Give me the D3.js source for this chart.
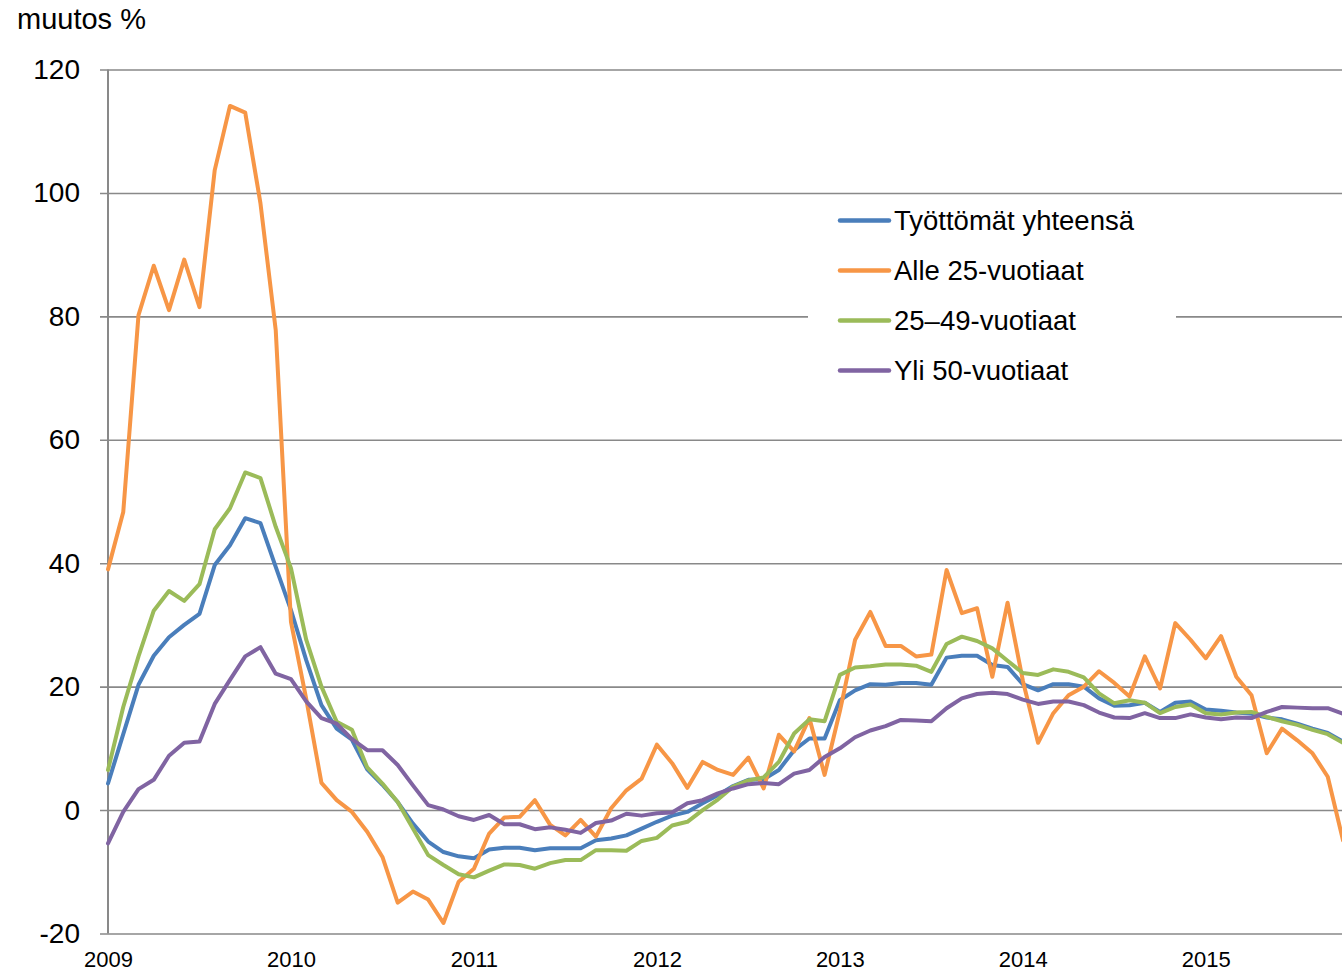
<!DOCTYPE html>
<html>
<head>
<meta charset="utf-8">
<script src="https://cdn.jsdelivr.net/npm/d3@7"></script>
<style>
  body { margin: 0; background: #fff; }
  svg { display: block; font-family: "Liberation Sans", Arial, sans-serif; }
</style>
</head>
<body>
<div id="chart"></div>
<script>
// Monthly data, Jan 2009 - Oct 2015 (change %, year over year)
var years = ['2009', '2010', '2011', '2012', '2013', '2014', '2015'];
var yTicks = [-20, 0, 20, 40, 60, 80, 100, 120];
var seriesNames = ['Työttömät yhteensä', 'Alle 25-vuotiaat', '25–49-vuotiaat', 'Yli 50-vuotiaat'];
var seriesColors = ['#4A7EBB', '#F79646', '#9BBB59', '#8064A2'];

var total = [4.3, 12.3, 20.3, 25.0, 28.0, 30.0, 31.8, 39.7, 42.9, 47.3, 46.5, 39.4,
  32.4, 24.3, 17.0, 13.2, 11.4, 6.6, 4.1, 1.3, -2.2, -5.1, -6.8, -7.5,
  -7.8, -6.4, -6.1, -6.1, -6.5, -6.2, -6.2, -6.2, -4.9, -4.6, -4.1, -3.0,
  -1.9, -0.9, -0.3, 1.1, 2.4, 3.9, 4.9, 5.0, 6.5, 9.7, 11.6, 11.6,
  17.8, 19.4, 20.4, 20.3, 20.6, 20.6, 20.3, 24.7, 25.0, 25.0, 23.5, 23.2,
  20.4, 19.4, 20.4, 20.4, 20.0, 18.1, 16.9, 17.0, 17.4, 15.9, 17.4, 17.6,
  16.3, 16.1, 15.8, 15.6, 15.0, 14.7, 14.0, 13.2, 12.5, 11.1];

var under25 = [39.0, 48.3, 80.2, 88.2, 81.0, 89.2, 81.5, 103.7, 114.1, 113.0, 98.3, 77.8,
  30.5, 18.0, 4.4, 1.6, -0.3, -3.5, -7.6, -15.0, -13.2, -14.5, -18.3, -11.6,
  -9.5, -3.8, -1.2, -1.1, 1.6, -2.4, -4.1, -1.6, -4.3, 0.3, 3.2, 5.1,
  10.6, 7.6, 3.6, 7.8, 6.5, 5.7, 8.5, 3.5, 12.2, 9.5, 14.9, 5.7,
  16.0, 27.6, 32.1, 26.6, 26.6, 24.9, 25.2, 38.9, 31.9, 32.7, 21.6, 33.6,
  21.0, 10.9, 15.7, 18.6, 20.0, 22.5, 20.6, 18.4, 24.9, 19.7, 30.3, 27.6,
  24.6, 28.2, 21.6, 18.6, 9.2, 13.2, 11.3, 9.2, 5.4, -4.9];

var age25to49 = [6.5, 16.7, 24.9, 32.3, 35.5, 33.9, 36.6, 45.5, 48.9, 54.7, 53.8, 45.9,
  39.2, 27.6, 20.0, 14.3, 13.0, 6.9, 4.3, 1.3, -3.0, -7.3, -8.9, -10.4,
  -10.9, -9.8, -8.8, -8.9, -9.5, -8.6, -8.1, -8.1, -6.5, -6.5, -6.6, -5.0,
  -4.5, -2.5, -1.9, 0.0, 1.7, 3.8, 4.8, 5.3, 7.8, 12.4, 14.7, 14.4,
  21.9, 23.1, 23.3, 23.6, 23.6, 23.4, 22.4, 26.9, 28.1, 27.4, 26.2, 24.2,
  22.2, 21.9, 22.8, 22.4, 21.5, 18.9, 17.3, 17.8, 17.4, 15.7, 16.7, 17.1,
  15.7, 15.5, 15.8, 15.9, 15.1, 14.4, 13.8, 13.0, 12.3, 10.9];

var over50 = [-5.4, -0.3, 3.4, 4.9, 8.8, 10.9, 11.1, 17.2, 21.1, 24.9, 26.4, 22.1,
  21.2, 17.6, 14.9, 14.0, 11.5, 9.7, 9.7, 7.3, 4.0, 0.8, 0.1, -1.0,
  -1.6, -0.8, -2.3, -2.3, -3.1, -2.8, -3.2, -3.7, -2.1, -1.7, -0.6, -0.9,
  -0.5, -0.4, 1.1, 1.6, 2.7, 3.5, 4.2, 4.4, 4.2, 5.9, 6.5, 8.6,
  10.0, 11.8, 12.9, 13.6, 14.6, 14.5, 14.4, 16.5, 18.1, 18.8, 19.0, 18.8,
  17.9, 17.2, 17.6, 17.6, 17.0, 15.8, 15.0, 14.9, 15.7, 14.9, 14.9, 15.5,
  15.0, 14.7, 15.0, 14.9, 15.9, 16.7, 16.6, 16.5, 16.5, 15.6];

(function () {
  var width = 1342, height = 974;
  var plotLeft = 108, plotRight = 1343, plotTop = 69.5, plotBottom = 933.5;
  var gridColor = '#898989';

  var seriesData = [total, under25, age25to49, over50];

  var svg = d3.select('#chart')
    .append('svg')
    .attr('width', width)
    .attr('height', height);

  var x = d3.scaleLinear()
    .domain([0, total.length - 1])
    .range([plotLeft, plotRight]);

  var y = d3.scaleLinear()
    .domain([-20, 120])
    .range([plotBottom, plotTop]);

  // Gridlines + y labels (plain hyphen for negatives, like the original)
  var yAxis = svg.append('g')
    .attr('transform', 'translate(100,0)')
    .call(d3.axisLeft(y)
      .tickValues(yTicks)
      .tickFormat(function (d) { return String(d); })
      .tickSize(-(width - 100))
      .tickPadding(20));
  yAxis.select('.domain').remove();
  yAxis.selectAll('.tick line')
    .attr('stroke', gridColor)
    .attr('stroke-width', 1.6);
  yAxis.selectAll('.tick text')
    .attr('font-size', 28)
    .attr('font-family', '"Liberation Sans", Arial, sans-serif')
    .attr('fill', '#000');

  // Vertical axis line
  svg.append('line')
    .attr('x1', plotLeft).attr('x2', plotLeft)
    .attr('y1', plotTop).attr('y2', plotBottom)
    .attr('stroke', gridColor)
    .attr('stroke-width', 2);

  // X labels (years)
  var xAxis = svg.append('g')
    .attr('transform', 'translate(0,' + plotBottom + ')')
    .call(d3.axisBottom(x)
      .tickValues(years.map(function (d, i) { return i * 12; }))
      .tickFormat(function (d) { return years[d / 12]; })
      .tickSize(0)
      .tickPadding(18));
  xAxis.select('.domain').remove();
  xAxis.selectAll('.tick text')
    .attr('font-size', 22)
    .attr('font-family', '"Liberation Sans", Arial, sans-serif')
    .attr('fill', '#000');

  // Legend box (covers gridline behind it)
  var legend = svg.append('g');
  legend.append('rect')
    .attr('x', 808).attr('y', 197)
    .attr('width', 368).attr('height', 198)
    .attr('fill', '#fff');

  // Lines
  var line = d3.line()
    .x(function (d, i) { return x(i); })
    .y(function (d) { return y(d); });

  svg.append('g')
    .selectAll('path')
    .data(seriesData)
    .join('path')
    .attr('d', line)
    .attr('fill', 'none')
    .attr('stroke', function (d, i) { return seriesColors[i]; })
    .attr('stroke-width', 4)
    .attr('stroke-linejoin', 'round')
    .attr('stroke-linecap', 'round');

  // Legend items
  var item = legend.selectAll('g.item')
    .data(seriesNames)
    .join('g')
    .attr('class', 'item')
    .attr('transform', function (d, i) { return 'translate(0,' + (220.5 + i * 50) + ')'; });

  item.append('line')
    .attr('x1', 840).attr('x2', 889)
    .attr('stroke', function (d, i) { return seriesColors[i]; })
    .attr('stroke-width', 4.5)
    .attr('stroke-linecap', 'round');

  item.append('text')
    .attr('x', 894)
    .attr('dy', '0.35em')
    .attr('font-size', 27.5)
    .attr('fill', '#000')
    .text(function (d) { return d; });

  // Unit title
  svg.append('text')
    .attr('x', 17)
    .attr('y', 29)
    .attr('font-size', 29)
    .attr('fill', '#000')
    .text('muutos %');
})();
</script>
</body>
</html>
